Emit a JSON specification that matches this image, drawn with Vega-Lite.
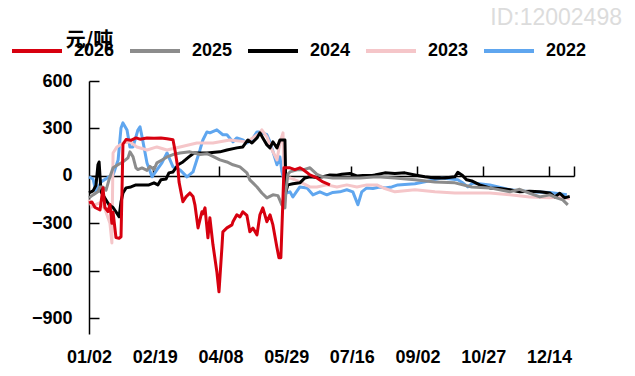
{
  "$schema": "https://vega.github.io/schema/vega-lite/v6.json",
  "width": 485,
  "height": 253,
  "autosize": {"type": "none"},
  "padding": {"left": 89, "top": 81, "right": 61, "bottom": 42},
  "background": "white",
  "title": {"text": "ID:12002498", "anchor": "end", "frame": "group", "color": "#dcdcdc", "fontSize": 23, "font": "Liberation Sans", "fontWeight": "normal", "dx": 48, "offset": -6},
  "config": {"view": {"stroke": null}, "font": "Liberation Sans"},
  "resolve": {"scale": {"x": "independent"}, "axis": {"x": "independent"}},
  "layer": [
    {
      "data": {"values": [{"lab": "01/02"}, {"lab": "02/19"}, {"lab": "04/08"}, {"lab": "05/29"}, {"lab": "07/16"}, {"lab": "09/02"}, {"lab": "10/27"}, {"lab": "12/14"}]},
      "mark": {"type": "point", "opacity": 0},
      "encoding": {
        "x": {"field": "lab", "type": "ordinal", "sort": null, "scale": {"type": "point", "range": [0, 460], "padding": 0},
          "axis": {"orient": "bottom", "title": null, "domain": false, "ticks": false, "grid": false, "labelAngle": 0, "labelFontSize": 18, "labelFontWeight": "bold", "labelFont": "Liberation Sans", "labelColor": "#000", "labelPadding": 14}}
      }
    },
    {
      "data": {"values": [
        {"s":"2022","i":0,"v":-6},{"s":"2022","i":2.1,"v":-20},{"s":"2022","i":3.6,"v":-101},{"s":"2022","i":6.2,"v":-38},{"s":"2022","i":9.8,"v":-10},{"s":"2022","i":12.4,"v":6},{"s":"2022","i":15,"v":100},{"s":"2022","i":16.5,"v":303},{"s":"2022","i":17.5,"v":335},{"s":"2022","i":19.6,"v":290},{"s":"2022","i":21.1,"v":183},{"s":"2022","i":22.7,"v":183},{"s":"2022","i":25.2,"v":290},{"s":"2022","i":26.3,"v":310},{"s":"2022","i":27.3,"v":250},{"s":"2022","i":29.9,"v":82},{"s":"2022","i":32.5,"v":-6},{"s":"2022","i":35,"v":38},{"s":"2022","i":37.6,"v":82},{"s":"2022","i":40.2,"v":145},{"s":"2022","i":43.3,"v":57},{"s":"2022","i":46.9,"v":38},{"s":"2022","i":50.5,"v":-6},{"s":"2022","i":53.6,"v":25},{"s":"2022","i":57.2,"v":164},{"s":"2022","i":58.7,"v":227},{"s":"2022","i":60.8,"v":278},{"s":"2022","i":62.3,"v":272},{"s":"2022","i":65.9,"v":291},{"s":"2022","i":69,"v":260},{"s":"2022","i":71.1,"v":260},{"s":"2022","i":74.2,"v":215},{"s":"2022","i":76.2,"v":240},{"s":"2022","i":79.3,"v":227},{"s":"2022","i":81.4,"v":208},{"s":"2022","i":84,"v":230},{"s":"2022","i":86.6,"v":278},{"s":"2022","i":88.1,"v":278},{"s":"2022","i":91.7,"v":260},{"s":"2022","i":93.3,"v":215},{"s":"2022","i":96.9,"v":70},{"s":"2022","i":98.4,"v":120},{"s":"2022","i":99.4,"v":30},{"s":"2022","i":102,"v":-108},{"s":"2022","i":103.6,"v":-101},{"s":"2022","i":105.1,"v":-133},{"s":"2022","i":108.7,"v":-70},{"s":"2022","i":112.3,"v":-76},{"s":"2022","i":115.4,"v":-120},{"s":"2022","i":119,"v":-101},{"s":"2022","i":122.6,"v":-120},{"s":"2022","i":125.7,"v":-105},{"s":"2022","i":129.3,"v":-101},{"s":"2022","i":132.9,"v":-88},{"s":"2022","i":136,"v":-101},{"s":"2022","i":138.6,"v":-183},{"s":"2022","i":140.6,"v":-101},{"s":"2022","i":143.2,"v":-76},{"s":"2022","i":146.3,"v":-80},{"s":"2022","i":149.9,"v":-70},{"s":"2022","i":152.5,"v":-76},{"s":"2022","i":156.1,"v":-70},{"s":"2022","i":159.2,"v":-57},{"s":"2022","i":168,"v":-50},{"s":"2022","i":173.1,"v":-38},{"s":"2022","i":181.9,"v":-13},{"s":"2022","i":190.1,"v":-25},{"s":"2022","i":192.2,"v":-40},{"s":"2022","i":195.3,"v":-70},{"s":"2022","i":197.8,"v":-45},{"s":"2022","i":206.6,"v":-57},{"s":"2022","i":216.9,"v":-88},{"s":"2022","i":227.2,"v":-101},{"s":"2022","i":237.5,"v":-105},{"s":"2022","i":246.3,"v":-120},
        {"s":"2023","i":0,"v":-150},{"s":"2023","i":1.5,"v":-196},{"s":"2023","i":3.6,"v":-180},{"s":"2023","i":5.7,"v":-170},{"s":"2023","i":8.2,"v":-210},{"s":"2023","i":10.8,"v":-300},{"s":"2023","i":11.8,"v":-424},{"s":"2023","i":12.4,"v":145},{"s":"2023","i":14.4,"v":183},{"s":"2023","i":17.5,"v":208},{"s":"2023","i":21.1,"v":215},{"s":"2023","i":24.7,"v":183},{"s":"2023","i":29.9,"v":164},{"s":"2023","i":35,"v":183},{"s":"2023","i":40.2,"v":164},{"s":"2023","i":46.9,"v":183},{"s":"2023","i":55.6,"v":208},{"s":"2023","i":63.9,"v":208},{"s":"2023","i":72.6,"v":227},{"s":"2023","i":81.4,"v":215},{"s":"2023","i":88.1,"v":272},{"s":"2023","i":89.1,"v":291},{"s":"2023","i":91.7,"v":247},{"s":"2023","i":94.3,"v":164},{"s":"2023","i":96.9,"v":101},{"s":"2023","i":98.4,"v":208},{"s":"2023","i":100,"v":272},{"s":"2023","i":100.5,"v":-20},{"s":"2023","i":103.6,"v":-13},{"s":"2023","i":108.7,"v":-38},{"s":"2023","i":113.9,"v":-70},{"s":"2023","i":117.5,"v":-70},{"s":"2023","i":122.6,"v":-57},{"s":"2023","i":127.8,"v":-70},{"s":"2023","i":132.9,"v":-57},{"s":"2023","i":138.1,"v":-70},{"s":"2023","i":143.2,"v":-57},{"s":"2023","i":148.4,"v":-57},{"s":"2023","i":152.5,"v":-80},{"s":"2023","i":157.7,"v":-101},{"s":"2023","i":168,"v":-88},{"s":"2023","i":178.3,"v":-101},{"s":"2023","i":188.6,"v":-108},{"s":"2023","i":197.3,"v":-108},{"s":"2023","i":206.6,"v":-108},{"s":"2023","i":216.9,"v":-120},{"s":"2023","i":227.2,"v":-133},{"s":"2023","i":237.5,"v":-139},{"s":"2023","i":242.7,"v":-133},{"s":"2023","i":247.8,"v":-145},
        {"s":"2024","i":0,"v":-108},{"s":"2024","i":2.1,"v":-95},{"s":"2024","i":3.6,"v":-60},{"s":"2024","i":4.6,"v":70},{"s":"2024","i":5.2,"v":88},{"s":"2024","i":6.2,"v":-101},{"s":"2024","i":7.7,"v":-130},{"s":"2024","i":10.3,"v":-183},{"s":"2024","i":12.4,"v":-200},{"s":"2024","i":13.9,"v":-227},{"s":"2024","i":15.5,"v":-259},{"s":"2024","i":16.5,"v":-164},{"s":"2024","i":17.5,"v":-108},{"s":"2024","i":19.1,"v":-76},{"s":"2024","i":21.6,"v":-70},{"s":"2024","i":24.2,"v":-57},{"s":"2024","i":27.8,"v":-57},{"s":"2024","i":30.9,"v":-57},{"s":"2024","i":33.5,"v":-44},{"s":"2024","i":35.5,"v":-57},{"s":"2024","i":37.1,"v":-25},{"s":"2024","i":39.7,"v":-20},{"s":"2024","i":41.2,"v":19},{"s":"2024","i":43.3,"v":25},{"s":"2024","i":45.9,"v":70},{"s":"2024","i":48.4,"v":88},{"s":"2024","i":51.5,"v":120},{"s":"2024","i":54.1,"v":145},{"s":"2024","i":60.8,"v":145},{"s":"2024","i":67.5,"v":152},{"s":"2024","i":71.1,"v":164},{"s":"2024","i":76.2,"v":177},{"s":"2024","i":79.3,"v":183},{"s":"2024","i":81.9,"v":227},{"s":"2024","i":84,"v":208},{"s":"2024","i":86.6,"v":240},{"s":"2024","i":88.1,"v":272},{"s":"2024","i":89.6,"v":240},{"s":"2024","i":91.7,"v":196},{"s":"2024","i":93.3,"v":177},{"s":"2024","i":94.8,"v":215},{"s":"2024","i":96.9,"v":177},{"s":"2024","i":98.4,"v":227},{"s":"2024","i":101,"v":227},{"s":"2024","i":101.5,"v":-101},{"s":"2024","i":102.5,"v":-57},{"s":"2024","i":105.1,"v":-50},{"s":"2024","i":108.7,"v":-44},{"s":"2024","i":111.3,"v":-13},{"s":"2024","i":113.9,"v":-6},{"s":"2024","i":117.5,"v":-10},{"s":"2024","i":120.6,"v":-5},{"s":"2024","i":124.2,"v":6},{"s":"2024","i":127.8,"v":4},{"s":"2024","i":130.3,"v":10},{"s":"2024","i":134.5,"v":15},{"s":"2024","i":138.1,"v":0},{"s":"2024","i":141.2,"v":2},{"s":"2024","i":146.3,"v":4},{"s":"2024","i":147.3,"v":6},{"s":"2024","i":152.5,"v":19},{"s":"2024","i":157.7,"v":15},{"s":"2024","i":162.8,"v":19},{"s":"2024","i":168,"v":6},{"s":"2024","i":173.1,"v":-6},{"s":"2024","i":178.3,"v":-13},{"s":"2024","i":183.4,"v":-13},{"s":"2024","i":188.6,"v":-6},{"s":"2024","i":190.1,"v":22},{"s":"2024","i":192.2,"v":6},{"s":"2024","i":194.7,"v":-25},{"s":"2024","i":197.3,"v":-32},{"s":"2024","i":201.4,"v":-57},{"s":"2024","i":206.6,"v":-76},{"s":"2024","i":211.7,"v":-80},{"s":"2024","i":216.9,"v":-88},{"s":"2024","i":222,"v":-101},{"s":"2024","i":227.2,"v":-97},{"s":"2024","i":232.4,"v":-100},{"s":"2024","i":237.5,"v":-108},{"s":"2024","i":240.1,"v":-133},{"s":"2024","i":242.7,"v":-110},{"s":"2024","i":245.2,"v":-139},{"s":"2024","i":247.8,"v":-130},
        {"s":"2025","i":0,"v":-139},{"s":"2025","i":2.1,"v":-120},{"s":"2025","i":4.6,"v":-101},{"s":"2025","i":5.7,"v":-70},{"s":"2025","i":7.2,"v":-70},{"s":"2025","i":8.8,"v":-90},{"s":"2025","i":10.3,"v":-25},{"s":"2025","i":12.4,"v":51},{"s":"2025","i":14.9,"v":70},{"s":"2025","i":17.5,"v":88},{"s":"2025","i":20.1,"v":114},{"s":"2025","i":21.1,"v":152},{"s":"2025","i":22.7,"v":120},{"s":"2025","i":24.2,"v":51},{"s":"2025","i":25.2,"v":40},{"s":"2025","i":27.3,"v":50},{"s":"2025","i":29.9,"v":35},{"s":"2025","i":31.4,"v":60},{"s":"2025","i":33.5,"v":40},{"s":"2025","i":35,"v":82},{"s":"2025","i":37.6,"v":100},{"s":"2025","i":40.2,"v":120},{"s":"2025","i":43.3,"v":135},{"s":"2025","i":46.9,"v":145},{"s":"2025","i":52,"v":152},{"s":"2025","i":57.2,"v":135},{"s":"2025","i":60.8,"v":140},{"s":"2025","i":62.3,"v":133},{"s":"2025","i":67.5,"v":101},{"s":"2025","i":71.1,"v":88},{"s":"2025","i":74.2,"v":70},{"s":"2025","i":77.8,"v":57},{"s":"2025","i":81.4,"v":19},{"s":"2025","i":82.9,"v":-25},{"s":"2025","i":86.6,"v":-70},{"s":"2025","i":89.1,"v":-108},{"s":"2025","i":91.7,"v":-139},{"s":"2025","i":94.8,"v":-120},{"s":"2025","i":97.4,"v":-125},{"s":"2025","i":99.4,"v":-183},{"s":"2025","i":101,"v":-202},{"s":"2025","i":101.5,"v":-100},{"s":"2025","i":102.5,"v":10},{"s":"2025","i":103.6,"v":25},{"s":"2025","i":107.2,"v":38},{"s":"2025","i":110.3,"v":38},{"s":"2025","i":113.9,"v":51},{"s":"2025","i":117.5,"v":10},{"s":"2025","i":120.6,"v":-6},{"s":"2025","i":125.7,"v":-13},{"s":"2025","i":132.9,"v":-13},{"s":"2025","i":139.6,"v":-13},{"s":"2025","i":148.4,"v":-6},{"s":"2025","i":157.7,"v":-13},{"s":"2025","i":168,"v":-25},{"s":"2025","i":178.3,"v":-38},{"s":"2025","i":188.6,"v":-44},{"s":"2025","i":197.3,"v":-70},{"s":"2025","i":206.6,"v":-76},{"s":"2025","i":216.9,"v":-101},{"s":"2025","i":222,"v":-85},{"s":"2025","i":227.2,"v":-110},{"s":"2025","i":232.4,"v":-133},{"s":"2025","i":237.5,"v":-120},{"s":"2025","i":241.1,"v":-139},{"s":"2025","i":244.2,"v":-152},{"s":"2025","i":246.8,"v":-183},
        {"s":"2026","i":0,"v":-171},{"s":"2026","i":1.5,"v":-165},{"s":"2026","i":3.1,"v":-200},{"s":"2026","i":5.7,"v":-215},{"s":"2026","i":7.2,"v":-75},{"s":"2026","i":8.2,"v":-200},{"s":"2026","i":9.8,"v":-225},{"s":"2026","i":10.8,"v":-180},{"s":"2026","i":11.8,"v":-300},{"s":"2026","i":12.4,"v":-230},{"s":"2026","i":13.9,"v":-390},{"s":"2026","i":15.5,"v":-395},{"s":"2026","i":16.5,"v":-385},{"s":"2026","i":17,"v":-100},{"s":"2026","i":17.5,"v":200},{"s":"2026","i":19.1,"v":230},{"s":"2026","i":21.6,"v":225},{"s":"2026","i":24.2,"v":240},{"s":"2026","i":26.3,"v":232},{"s":"2026","i":29.9,"v":240},{"s":"2026","i":33.5,"v":238},{"s":"2026","i":37.1,"v":240},{"s":"2026","i":40.2,"v":235},{"s":"2026","i":43.3,"v":228},{"s":"2026","i":44.5,"v":150},{"s":"2026","i":45.9,"v":40},{"s":"2026","i":46.4,"v":-38},{"s":"2026","i":47.4,"v":-101},{"s":"2026","i":48.4,"v":-164},{"s":"2026","i":50,"v":-133},{"s":"2026","i":52,"v":-108},{"s":"2026","i":53.6,"v":-130},{"s":"2026","i":54.6,"v":-183},{"s":"2026","i":56.2,"v":-329},{"s":"2026","i":58.2,"v":-227},{"s":"2026","i":58.7,"v":-240},{"s":"2026","i":59.8,"v":-202},{"s":"2026","i":61.3,"v":-392},{"s":"2026","i":62.3,"v":-265},{"s":"2026","i":63.9,"v":-436},{"s":"2026","i":65.9,"v":-606},{"s":"2026","i":67,"v":-733},{"s":"2026","i":68.5,"v":-455},{"s":"2026","i":69,"v":-354},{"s":"2026","i":71.1,"v":-329},{"s":"2026","i":73.7,"v":-310},{"s":"2026","i":74.2,"v":-290},{"s":"2026","i":76.2,"v":-246},{"s":"2026","i":77.8,"v":-260},{"s":"2026","i":79.3,"v":-227},{"s":"2026","i":81.4,"v":-250},{"s":"2026","i":82.9,"v":-354},{"s":"2026","i":84.5,"v":-330},{"s":"2026","i":86.6,"v":-373},{"s":"2026","i":88.1,"v":-246},{"s":"2026","i":89.6,"v":-202},{"s":"2026","i":91.7,"v":-290},{"s":"2026","i":93.3,"v":-246},{"s":"2026","i":94.8,"v":-310},{"s":"2026","i":96.9,"v":-455},{"s":"2026","i":97.9,"v":-518},{"s":"2026","i":98.9,"v":-518},{"s":"2026","i":100,"v":-139},{"s":"2026","i":100.5,"v":51},{"s":"2026","i":103.6,"v":51},{"s":"2026","i":106.1,"v":40},{"s":"2026","i":108.7,"v":51},{"s":"2026","i":110.3,"v":40},{"s":"2026","i":113.9,"v":6},{"s":"2026","i":117.5,"v":-13},{"s":"2026","i":120.6,"v":-38},{"s":"2026","i":124.2,"v":-57}
      ]},
      "mark": {"type": "line", "strokeWidth": 3, "strokeJoin": "round"},
      "encoding": {
        "x": {"field": "i", "type": "quantitative", "scale": {"domain": [0, 250], "nice": false, "zero": false},
          "axis": {"orient": "bottom", "offset": -158, "labels": false, "title": null, "grid": false, "domainColor": "#000", "domainWidth": 1.5, "tickColor": "#000", "tickWidth": 1.5, "tickSize": -10, "values": [33, 67, 101, 135, 169, 203, 237, 250]}},
        "y": {"field": "v", "type": "quantitative", "scale": {"domain": [-1000, 600], "nice": false, "zero": false},
          "axis": {"values": [600, 300, 0, -300, -600, -900], "grid": false, "domainColor": "#000", "domainWidth": 1.5, "tickColor": "#000", "tickWidth": 1.5, "tickSize": -10, "labelPadding": 27, "labelFontSize": 18, "labelFontWeight": "bold", "labelFont": "Liberation Sans", "labelColor": "#000",
            "title": "元/吨", "titleAngle": 0, "titleX": 0, "titleY": -41, "titleAlign": "center", "titleBaseline": "middle", "titleFont": "Noto Sans CJK SC", "titleFontSize": 20, "titleFontWeight": "bold", "titleColor": "#000"}},
        "color": {"field": "s", "type": "nominal",
          "scale": {"domain": ["2026", "2025", "2024", "2023", "2022"], "range": ["#d7000f", "#8c8c8c", "#000000", "#f5c6c9", "#5fa6ef"]},
          "legend": {"orient": "none", "legendX": -79, "legendY": -57, "direction": "horizontal", "title": null, "symbolType": "stroke", "symbolSize": 2500, "symbolStrokeWidth": 4, "labelFontSize": 18, "labelFontWeight": "bold", "labelFont": "Liberation Sans", "labelColor": "#000", "labelOffset": 10, "columnPadding": 7}}
      }
    }
  ]
}
